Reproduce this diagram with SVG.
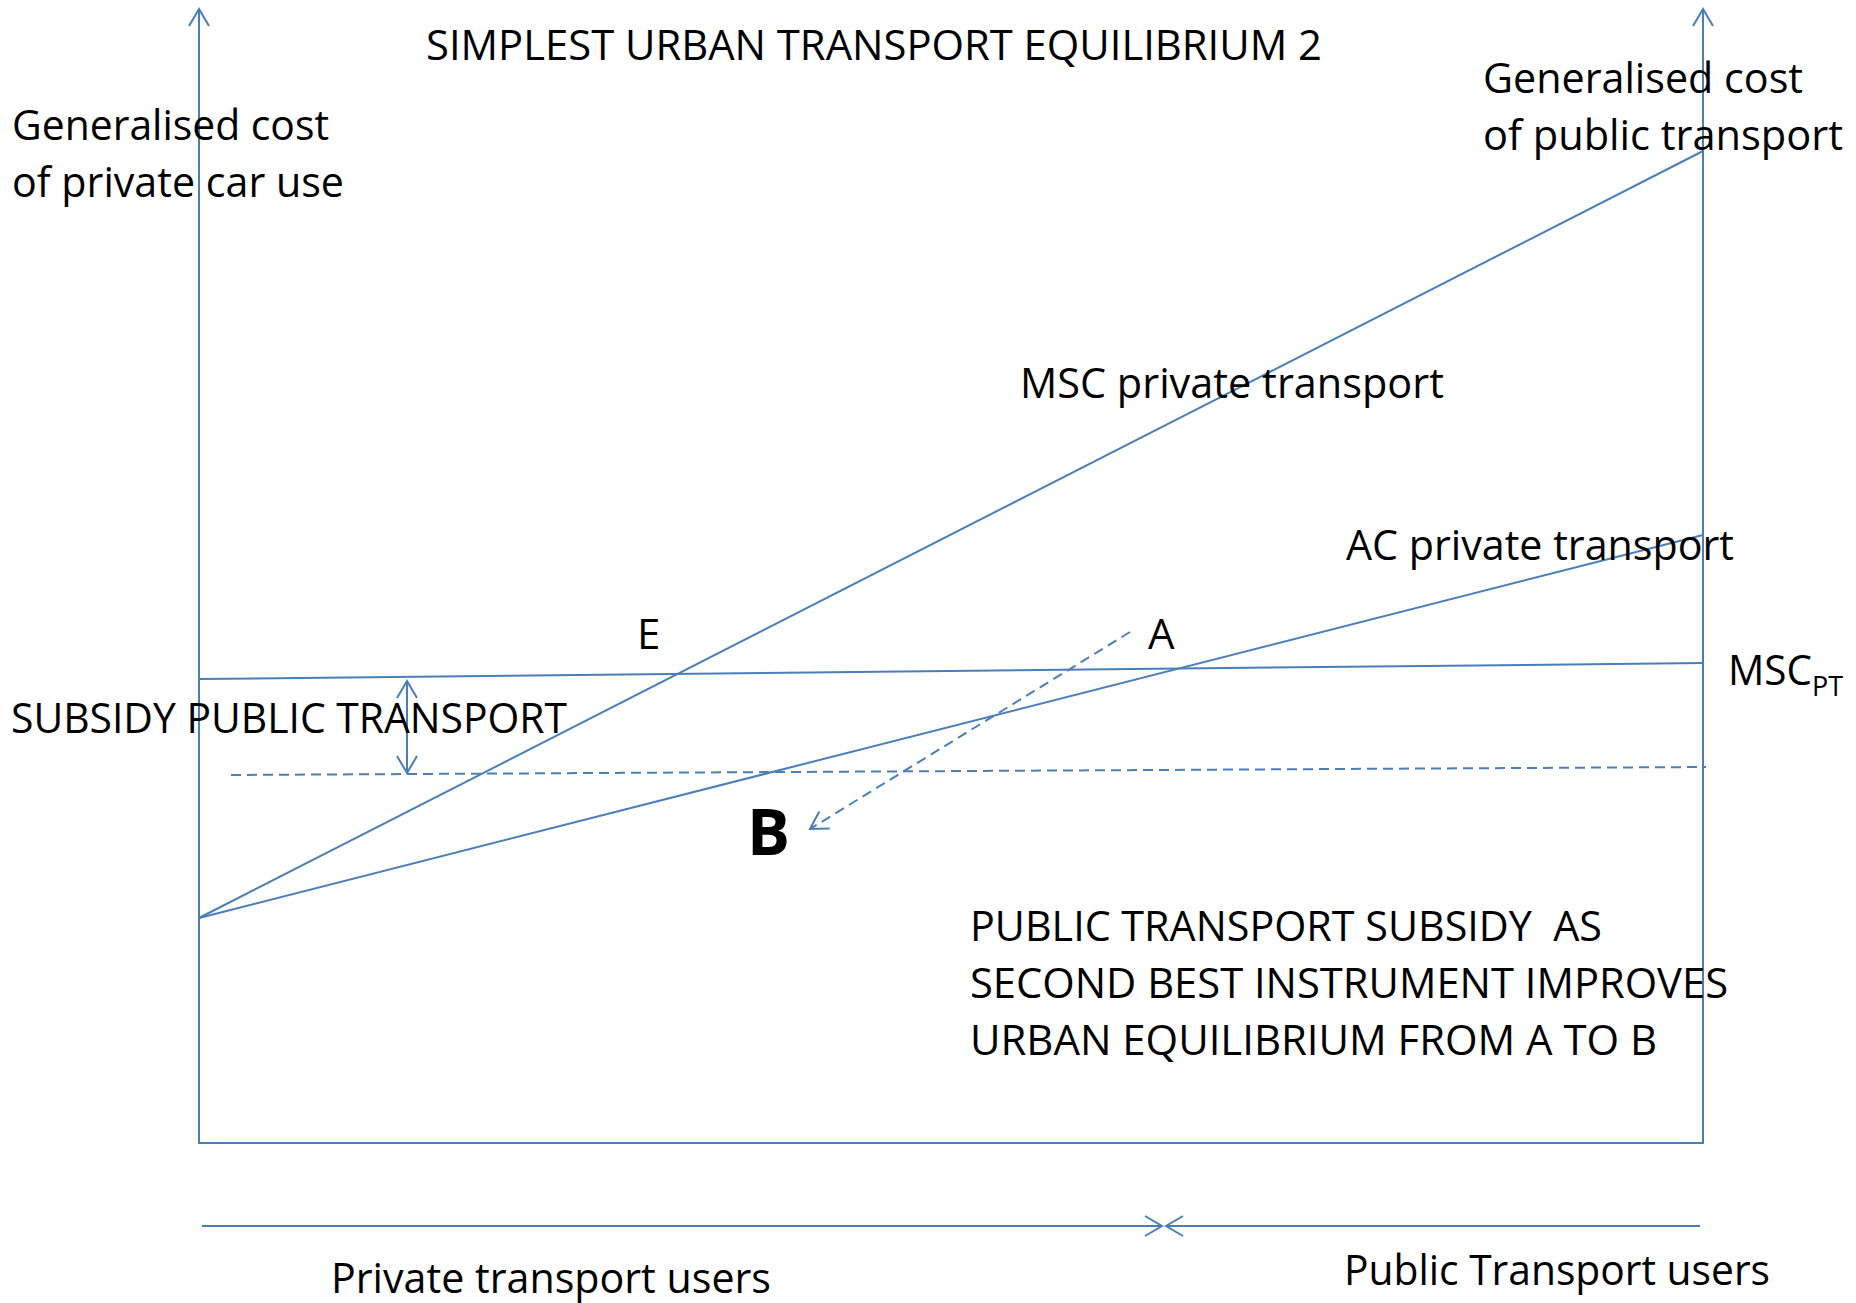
<svg xmlns="http://www.w3.org/2000/svg" width="1856" height="1303" viewBox="0 0 1856 1303">
  <style>
    .ln { stroke: #4A7EBB; stroke-width: 2; fill: none; }
    .dash { stroke: #4A7EBB; stroke-width: 2; fill: none; stroke-dasharray: 10 6; }
    .t { font-family: "Open Sans", "Liberation Sans", sans-serif; font-size: 42px; fill: #000; }
    .pre { white-space: pre; }
    .big { font-size: 64px; font-weight: bold; }
    .sub { font-size: 28px; }
  </style>
  <defs>
    <marker id="arr" markerUnits="userSpaceOnUse" markerWidth="24" markerHeight="24" viewBox="-20 -12 22 24" refX="0" refY="0" orient="auto-start-reverse">
      <path d="M -17 -10 L 0 0 L -17 10" fill="none" stroke="#4A7EBB" stroke-width="2"/>
    </marker>
  </defs>
  <rect width="1856" height="1303" fill="#fff"/>

  <g id="connectors">
    <line id="axis-left" class="ln" x1="199" y1="1143" x2="199" y2="9" marker-end="url(#arr)"/>
    <line id="axis-right" class="ln" x1="1703" y1="1143" x2="1703" y2="9" marker-end="url(#arr)"/>
    <line id="axis-bottom" class="ln" x1="198" y1="1143" x2="1704" y2="1143"/>
    <line id="msc-private" class="ln" x1="199" y1="918" x2="1703" y2="151"/>
    <line id="ac-private" class="ln" x1="199" y1="918" x2="1703" y2="535"/>
    <line id="msc-pt" class="ln" x1="199" y1="679" x2="1703" y2="663"/>
    <line id="subsidy-line" class="dash" x1="231" y1="775" x2="1706" y2="767"/>
    <line id="subsidy-arrow" class="ln" x1="407" y1="681" x2="407" y2="773" marker-start="url(#arr)" marker-end="url(#arr)"/>
    <line id="a-to-b" class="dash" x1="1130" y1="632" x2="810" y2="829" marker-end="url(#arr)"/>
    <line id="private-users-arrow" class="ln" x1="202" y1="1226" x2="1162" y2="1226" marker-end="url(#arr)"/>
    <line id="public-users-arrow" class="ln" x1="1700" y1="1226" x2="1166" y2="1226" marker-end="url(#arr)"/>
  </g>

  <g id="title">
    <text class="t" x="426" y="60" textLength="896" lengthAdjust="spacingAndGlyphs">SIMPLEST URBAN TRANSPORT EQUILIBRIUM 2</text>
  </g>
  <g id="label-left-axis">
    <text class="t" x="12" y="140" textLength="317" lengthAdjust="spacingAndGlyphs">Generalised cost</text>
    <text class="t" x="12" y="197" textLength="332" lengthAdjust="spacingAndGlyphs">of private car use</text>
  </g>
  <g id="label-right-axis">
    <text class="t" x="1483" y="93" textLength="320" lengthAdjust="spacingAndGlyphs">Generalised cost</text>
    <text class="t" x="1483" y="150" textLength="360" lengthAdjust="spacingAndGlyphs">of public transport</text>
  </g>
  <g id="label-msc-private">
    <text class="t" x="1020" y="398" textLength="424" lengthAdjust="spacingAndGlyphs">MSC private transport</text>
  </g>
  <g id="label-ac-private">
    <text class="t" x="1346" y="560" textLength="388" lengthAdjust="spacingAndGlyphs">AC private transport</text>
  </g>
  <g id="point-E">
    <text class="t" x="637" y="649">E</text>
  </g>
  <g id="point-A">
    <text class="t" x="1148" y="649">A</text>
  </g>
  <g id="point-B">
    <text class="t big" x="747" y="855">B</text>
  </g>
  <g id="label-msc-pt">
    <text class="t" x="1728" y="685" textLength="115" lengthAdjust="spacingAndGlyphs">MSC<tspan class="sub" dy="11">PT</tspan></text>
  </g>
  <g id="label-subsidy">
    <text class="t" x="11" y="733" textLength="556" lengthAdjust="spacingAndGlyphs">SUBSIDY PUBLIC TRANSPORT</text>
  </g>
  <g id="note">
    <text class="t pre" x="970" y="941" textLength="632" lengthAdjust="spacingAndGlyphs">PUBLIC TRANSPORT SUBSIDY  AS</text>
    <text class="t" x="970" y="998" textLength="758" lengthAdjust="spacingAndGlyphs">SECOND BEST INSTRUMENT IMPROVES</text>
    <text class="t" x="970" y="1055" textLength="687" lengthAdjust="spacingAndGlyphs">URBAN EQUILIBRIUM FROM A TO B</text>
  </g>
  <g id="label-private-users">
    <text class="t" x="331" y="1293" textLength="440" lengthAdjust="spacingAndGlyphs">Private transport users</text>
  </g>
  <g id="label-public-users">
    <text class="t" x="1344" y="1285" textLength="426" lengthAdjust="spacingAndGlyphs">Public Transport users</text>
  </g>
</svg>
